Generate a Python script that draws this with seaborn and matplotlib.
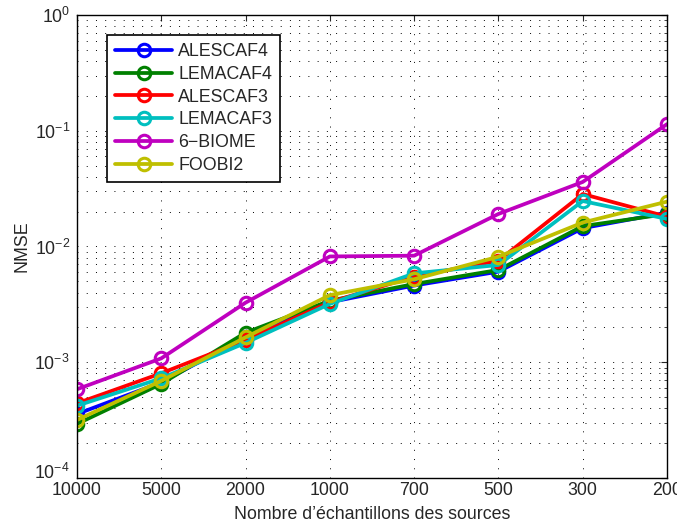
import numpy as np
import pandas as pd
import matplotlib
matplotlib.use("Agg")
import matplotlib.pyplot as plt
import matplotlib.transforms as mtransforms
import seaborn as sns
from matplotlib.ticker import LogLocator, NullFormatter

# ---- data ----
sample_labels = ["10000", "5000", "2000", "1000", "700", "500", "300", "200"]
methods = ["ALESCAF4", "LEMACAF4", "ALESCAF3", "LEMACAF3", "6\u2212BIOME", "FOOBI2"]
alescaf4 = [3.57e-4, 6.7e-4, 1.65e-3, 3.30e-3, 4.6e-3, 6.06e-3, 0.0144, 0.0196]
lemacaf4 = [2.93e-4, 6.5e-4, 1.80e-3, 3.40e-3, 4.74e-3, 6.27e-3, 0.0150, 0.0191]
alescaf3 = [4.42e-4, 8.03e-4, 1.55e-3, 3.30e-3, 5.5e-3, 7.54e-3, 0.0284, 0.0181]
lemacaf3 = [4.21e-4, 7.26e-4, 1.47e-3, 3.19e-3, 5.86e-3, 6.92e-3, 0.0247, 0.0173]
biome6 = [5.84e-4, 1.08e-3, 3.27e-3, 8.20e-3, 8.33e-3, 0.0191, 0.0361, 0.114]
foobi2 = [3.17e-4, 6.9e-4, 1.64e-3, 3.80e-3, 5.21e-3, 8.16e-3, 0.0161, 0.0244]
y_ticks = [1e-4, 1e-3, 1e-2, 1e-1, 1e0]
colors = ["#0000ff", "#008000", "#ff0000", "#00bfbf", "#bf00bf", "#bfbf00"]

series = [alescaf4, lemacaf4, alescaf3, lemacaf3, biome6, foobi2]
rows = []
for m, vals in zip(methods, series):
    for i, v in enumerate(vals):
        rows.append({"pos": i, "NMSE": v, "method": m})
df = pd.DataFrame(rows)

sns.set_style("white")
plt.rcParams["font.family"] = ["Liberation Sans", "DejaVu Sans"]
plt.rcParams["mathtext.default"] = "regular"
FS = 12.8
plt.rcParams["font.size"] = FS

fig = plt.figure(figsize=(6.77, 5.26), dpi=100)
ax = fig.add_axes([0.1137, 0.0913, 0.8715, 0.8802])

sns.lineplot(data=df, x="pos", y="NMSE", hue="method", hue_order=methods,
             palette=colors, marker="o", markersize=9, markerfacecolor="none",
             markeredgewidth=2.2, linewidth=2.7, ax=ax, legend=True)
for line, c in zip(ax.lines, colors):
    line.set_markeredgecolor(c)

ax.set_yscale("log")
ax.set_ylim(1e-4, 1)
ax.set_xlim(0, len(sample_labels) - 1)
ax.set_xticks(range(len(sample_labels)))
ax.set_xticklabels(sample_labels)
ax.set_yticks(y_ticks)
ax.set_yticklabels([r"$10^{%d}$" % int(round(np.log10(v))) for v in y_ticks])
ax.yaxis.set_minor_locator(LogLocator(base=10, subs=np.arange(2, 10), numticks=100))
ax.yaxis.set_minor_formatter(NullFormatter())

dot = (0, (1, 8.5))
ax.grid(True, which="major", axis="both", color="black", linestyle=dot, linewidth=0.7)
ax.grid(True, which="minor", axis="y", color="black", linestyle=dot, linewidth=0.7)

ax.tick_params(which="both", direction="in", top=True, right=True, labelsize=FS)
ax.tick_params(axis="x", pad=3)
ax.tick_params(axis="y", pad=5)
ax.tick_params(which="major", length=4)
ax.tick_params(which="minor", length=2)
for s in ax.spines.values():
    s.set_color("black")
    s.set_linewidth(1.0)

ax.set_xlabel("Nombre d\u2019\u00e9chantillons des sources", fontsize=FS, labelpad=5)
ax.set_ylabel("NMSE", fontsize=FS, labelpad=3)

leg = ax.legend(loc="upper left", bbox_to_anchor=(0.051, 0.957), borderaxespad=0,
                fancybox=False, edgecolor="black", framealpha=1, fontsize=FS,
                handlelength=3.2, labelspacing=0.33, borderpad=0.45, handletextpad=0.35)
leg.get_frame().set_linewidth(1.2)
for h, c in zip(leg.legend_handles, colors):
    h.set_markeredgecolor(c)
    h.set_markerfacecolor("none")

# lift the bottom y tick label slightly, as in the reference
low = ax.get_yticklabels()[0]
low.set_transform(low.get_transform() +
                  mtransforms.ScaledTranslation(0, 5 / 72, fig.dpi_scale_trans))

fig.savefig("out.png", dpi=100)
